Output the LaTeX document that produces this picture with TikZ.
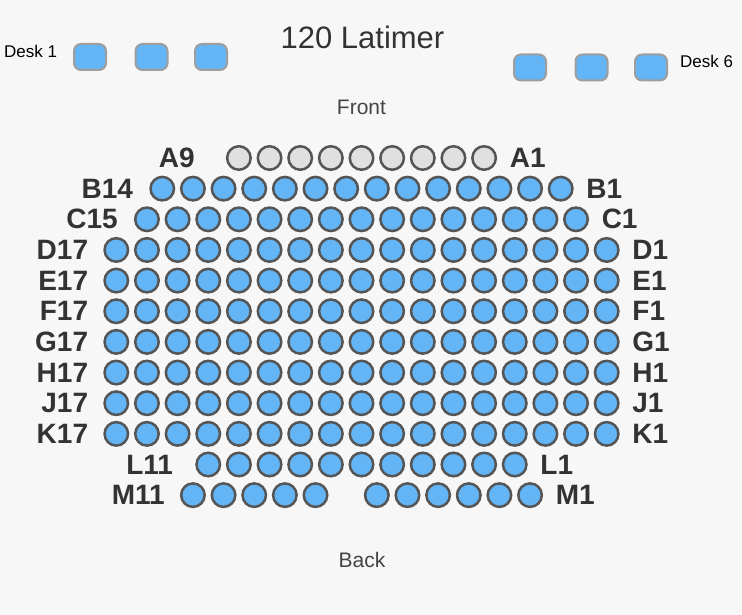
\documentclass[tikz,border=0pt]{standalone}
\usepackage{fontspec}
\setmainfont{Liberation Sans}
\usetikzlibrary{positioning}
\definecolor{seatblue}{HTML}{64B5F6}
\definecolor{seatgray}{HTML}{E0E0E0}
\definecolor{seatedge}{HTML}{555555}
\definecolor{deskedge}{HTML}{9E9E9E}
\definecolor{labelgray}{HTML}{333333}
\definecolor{textgray}{HTML}{444444}
\definecolor{roombg}{HTML}{F7F7F7}
\tikzset{
  seat/.style={circle, draw=seatedge, fill=seatblue, line width=2.5pt, minimum size=23.5pt, inner sep=0pt},
  seatoff/.style={seat, fill=seatgray},
  desk/.style={draw=deskedge, fill=seatblue, line width=2pt, rounded corners=7pt, minimum width=32pt, minimum height=26pt, inner sep=0pt},
  rowlabel/.style={font=\fontsize{28}{31}\selectfont\bfseries, text=labelgray, inner sep=0pt},
  desklabel/.style={font=\fontsize{17}{20}\selectfont, text=black, inner sep=0pt},
  roomtitle/.style={font=\fontsize{31}{34}\selectfont, text=labelgray, inner sep=0pt},
  sidelabel/.style={font=\fontsize{21}{24}\selectfont, text=textgray, inner sep=0pt}
}
\begin{document}
\begin{tikzpicture}[x=1pt, y=-1pt]
    \fill[roombg] (0,0) rectangle (742,615);

    % Room title and front / back
    \node[roomtitle, anchor=base] (title) at (362.5,48.3) {120 Latimer};
    \node[sidelabel, anchor=base] (front) at (361.5,114.3) {Front};
    \node[sidelabel, anchor=base] (back) at (362,567.3) {Back};

    % Desks
    \node[desk] (desk1) at (90,57) {};
    \node[desk] (desk2) at (151.5,57) {};
    \node[desk] (desk3) at (211,57) {};
    \node[desk] (desk4) at (530,67.5) {};
    \node[desk] (desk5) at (591.5,67.5) {};
    \node[desk] (desk6) at (651,67.5) {};
    \node[desklabel, anchor=base west] (desk1-label) at (4,57.3) {Desk 1};
    \node[desklabel, anchor=base west] (desk6-label) at (680,67.3) {Desk 6};

    % Seat rows, seat 1 on the right
    \foreach \row/\num/\i/\kind/\gap in {A/9/0/seatoff/31pt, B/14/1/seat/16pt, C/15/2/seat/16pt,
        D/17/3/seat/15pt, E/17/4/seat/15pt, F/17/5/seat/15pt, G/17/6/seat/15pt, H/17/7/seat/15pt,
        J/17/8/seat/15pt, K/17/9/seat/15pt, L/11/10/seat/22pt}{
      \foreach \k in {1,...,\num}
        \node[\kind] (\row-\k) at ({361.5+((\num+1)/2-\k)*30.65}, {158+\i*30.65}) {};
      \node[rowlabel, left=\gap of \row-\num] (\row-left) {\row\num};
      \node[rowlabel, right=12.5pt of \row-1] (\row-right) {\row1};
    }

    % Row M, split by the aisle
    \foreach \k in {1,...,6}
      \node[seat] (M-\k) at ({361.5+(6.5-\k)*30.65}, {158+11*30.65}) {};
    \foreach \k in {7,...,11}
      \node[seat] (M-\k) at ({361.5+(5.5-\k)*30.65}, {158+11*30.65}) {};
    \node[rowlabel, left=15pt of M-11] (M-left) {M11};
    \node[rowlabel, right=12.5pt of M-1] (M-right) {M1};
\end{tikzpicture}
\end{document}
